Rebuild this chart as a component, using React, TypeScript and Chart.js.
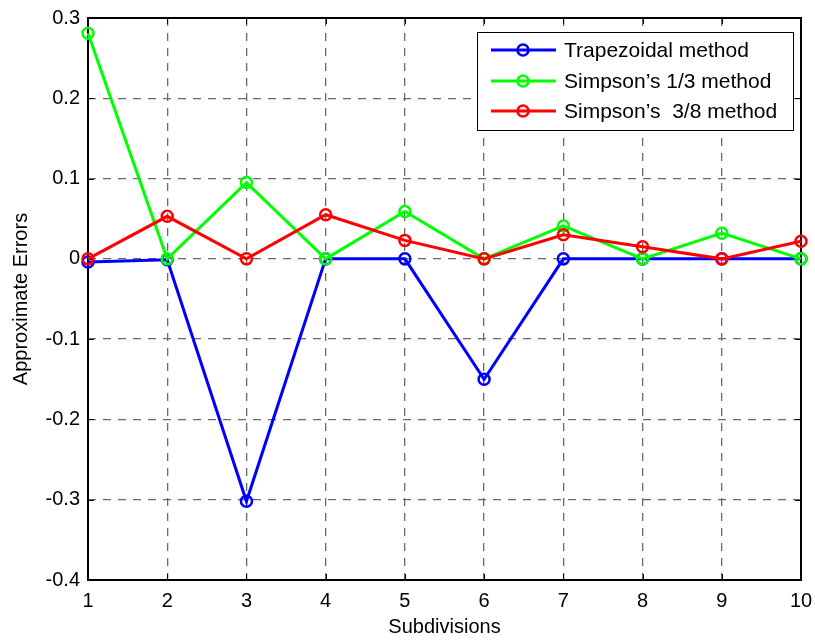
import React, { useEffect, useRef } from 'react';
import { Chart, registerables } from 'chart.js';

Chart.register(...registerables);

const subdivisions = ['1', '2', '3', '4', '5', '6', '7', '8', '9', '10'];
const trapezoidal = [-0.004, -0.001, -0.302, 0, 0, -0.15, 0, 0, 0, 0];
const simpson13 = [0.281, 0, 0.095, 0, 0.059, 0, 0.041, 0, 0.032, 0];
const simpson38 = [0, 0.053, 0, 0.055, 0.023, 0, 0.03, 0.015, 0, 0.022];
const yTickValues = [0.3, 0.2, 0.1, 0, -0.1, -0.2, -0.3, -0.4];
const seriesNames = ['Trapezoidal method', 'Simpson\u2019s 1/3 method', 'Simpson\u2019s  3/8 method'];
const seriesColors = ['#0000ff', '#00ff00', '#ff0000'];
const xTitle = 'Subdivisions';
const yTitle = 'Approximate Errors';

const FONT = '"Liberation Sans", Arial, Helvetica, sans-serif';

const framePlugin = {
  id: 'matlabFrame',
  beforeDatasetsDraw(chart: any) {
    const { ctx, chartArea } = chart;
    const { left, right, top, bottom } = chartArea;
    const xs = chart.scales.x;
    const ys = chart.scales.y;
    ctx.save();
    ctx.strokeStyle = '#000';
    ctx.lineWidth = 1;
    const tl = 6;
    ctx.beginPath();
    xs.ticks.forEach((_t: any, i: number) => {
      const px = Math.round(xs.getPixelForTick(i)) + 0.5;
      ctx.moveTo(px, bottom);
      ctx.lineTo(px, bottom - tl);
      ctx.moveTo(px, top);
      ctx.lineTo(px, top + tl);
    });
    ys.ticks.forEach((t: any) => {
      const py = Math.round(ys.getPixelForValue(t.value)) + 0.5;
      ctx.moveTo(left, py);
      ctx.lineTo(left + tl, py);
      ctx.moveTo(right, py);
      ctx.lineTo(right - tl, py);
    });
    ctx.stroke();
    ctx.lineWidth = 2;
    ctx.strokeRect(left, top, right - left, bottom - top);
    ctx.restore();
  },
  afterDatasetsDraw(chart: any) {
    const { ctx, chartArea } = chart;
    ctx.save();
    // legend box
    const bx = 477, by = 32, bw = 316, bh = 98;
    ctx.fillStyle = '#fff';
    ctx.fillRect(bx, by, bw, bh);
    ctx.strokeStyle = '#000';
    ctx.lineWidth = 1;
    ctx.strokeRect(bx + 0.5, by + 0.5, bw, bh);
    const rows = [50, 81, 111];
    chart.data.datasets.forEach((ds: any, i: number) => {
      const y = rows[i];
      ctx.strokeStyle = ds.borderColor;
      ctx.lineWidth = 3;
      ctx.beginPath();
      ctx.moveTo(491, y);
      ctx.lineTo(556, y);
      ctx.stroke();
      ctx.lineWidth = 2.5;
      ctx.beginPath();
      ctx.arc(523, y, 5.5, 0, Math.PI * 2);
      ctx.stroke();
      ctx.fillStyle = '#000';
      ctx.font = '21px ' + FONT;
      ctx.textAlign = 'left';
      ctx.textBaseline = 'middle';
      ctx.fillText(ds.label, 564, y + 1);
    });
    // axis titles
    ctx.fillStyle = '#000';
    ctx.font = '20px ' + FONT;
    ctx.textAlign = 'center';
    ctx.textBaseline = 'alphabetic';
    ctx.fillText(xTitle, (chartArea.left + chartArea.right) / 2, 633);
    ctx.translate(27, (chartArea.top + chartArea.bottom) / 2);
    ctx.rotate(-Math.PI / 2);
    ctx.fillText(yTitle, 0, 0);
    ctx.restore();
  },
};

export default function App() {
  const ref = useRef<HTMLCanvasElement | null>(null);
  useEffect(() => {
    if (!ref.current) return;
    Chart.defaults.font.family = FONT;
    const seriesData = [trapezoidal, simpson13, simpson38];
    const orders = [2, 1, 0];
    const chart = new Chart(ref.current, {
      type: 'line',
      data: {
        labels: subdivisions,
        datasets: seriesData.map((d, i) => ({
          label: seriesNames[i],
          data: d,
          borderColor: seriesColors[i],
          backgroundColor: 'rgba(0,0,0,0)',
          borderWidth: 3,
          pointRadius: 5.5,
          pointBorderWidth: 2.5,
          pointBackgroundColor: 'rgba(0,0,0,0)',
          pointBorderColor: seriesColors[i],
          tension: 0,
          clip: false as any,
          order: orders[i],
        })),
      },
      options: {
        responsive: false,
        animation: false,
        devicePixelRatio: 1,
        layout: { padding: { left: 0, right: 14, top: 18, bottom: 0 } },
        plugins: { legend: { display: false }, tooltip: { enabled: false }, title: { display: false } },
        scales: {
          x: {
            type: 'category',
            offset: false,
            grid: { color: '#6a6a6a', lineWidth: 1.3, drawTicks: false },
            border: { display: false, dash: [8, 7] },
            ticks: { color: '#000', font: { size: 20 }, padding: 9, maxRotation: 0, autoSkip: false },
            afterFit: (s: any) => { s.height = 60; s.paddingLeft = 0; s.paddingRight = 0; },
          },
          y: {
            type: 'linear',
            min: -0.4,
            max: 0.3,
            grid: { color: '#6a6a6a', lineWidth: 1.3, drawTicks: false },
            border: { display: false, dash: [8, 7] },
            afterBuildTicks: (s: any) => { s.ticks = yTickValues.map((v) => ({ value: v })); },
            ticks: {
              color: '#000',
              font: { size: 20 },
              padding: 8,
              callback: (v: any) => String(Number(Number(v).toFixed(1))),
            },
            afterFit: (s: any) => { s.width = 88; s.paddingTop = 0; s.paddingBottom = 0; },
          },
        },
      },
      plugins: [framePlugin],
    });
    return () => chart.destroy();
  }, []);
  return (
    <div style={{ position: 'fixed', left: 0, top: 0, width: 815, height: 640, background: '#fff' }}>
      <canvas ref={ref} width={815} height={640} style={{ display: 'block' }} />
    </div>
  );
}
